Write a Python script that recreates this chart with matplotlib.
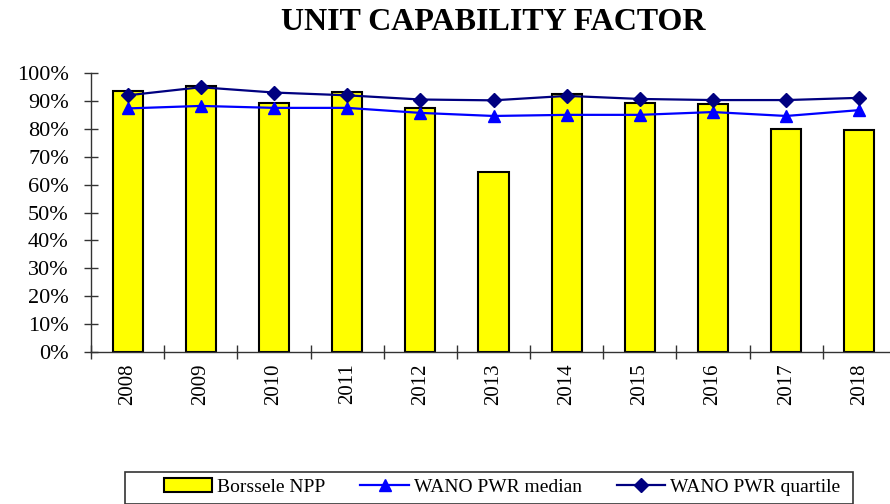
import numpy as np
import matplotlib.pyplot as plt
from matplotlib.patches import Rectangle
from matplotlib.ticker import PercentFormatter, FixedLocator

# data
years = ['2008', '2009', '2010', '2011', '2012', '2013', '2014', '2015', '2016', '2017', '2018']
borssele = [93.5, 95.3, 89.2, 93.2, 87.5, 64.5, 92.5, 89.2, 88.9, 79.9, 79.6]
wano_median = [87.3, 88.2, 87.5, 87.5, 85.7, 84.6, 85.0, 85.0, 86.0, 84.6, 86.7]
wano_quartile = [92.0, 94.9, 93.0, 92.0, 90.5, 90.2, 91.8, 90.7, 90.3, 90.3, 91.1]

plt.rcParams['font.family'] = ['Liberation Serif', 'DejaVu Serif']

W, H = 890, 504
fig = plt.figure(figsize=(W / 100, H / 100), dpi=100)
ax = fig.add_axes([91 / W, 1 - 352 / H, 805 / W, 279 / H])

x = np.arange(len(years))
bars = ax.bar(x, borssele, width=0.41, color='#FFFF00', edgecolor='black', linewidth=1.5,
              label='Borssele NPP', zorder=2)
l1, = ax.plot(x, wano_median, color='#0000FF', marker='^', markersize=9, linewidth=1.6,
              label='WANO PWR median', zorder=3)
l2, = ax.plot(x, wano_quartile, color='#000080', marker='D', markersize=7.5, linewidth=1.6,
              label='WANO PWR quartile', zorder=4)

ax.set_xlim(-0.5, len(years) - 0.5)
ax.set_ylim(0, 100)
ax.yaxis.set_major_formatter(PercentFormatter(decimals=0))
ax.set_yticks(np.arange(0, 101, 10))

ax.set_xticks(x)
ax.set_xticklabels(years, rotation=90, fontsize=15)
ax.xaxis.set_minor_locator(FixedLocator(np.arange(-0.5, len(years), 1)))
ax.tick_params(axis='x', which='major', length=0, pad=8)
ax.tick_params(axis='x', which='minor', direction='inout', length=10, width=1, color='#333333')
ax.tick_params(axis='y', direction='inout', length=10, width=1, color='#333333',
               labelsize=16, pad=11)

for s in ['top', 'right']:
    ax.spines[s].set_visible(False)
for s in ['left', 'bottom']:
    ax.spines[s].set_color('#333333')
    ax.spines[s].set_linewidth(1)

fig.text(493 / W, 1 - 22 / H, 'UNIT CAPABILITY FACTOR', ha='center', va='center',
         fontsize=23, fontweight='bold')

# legend box drawn by hand, entries centred inside
fig.patches.append(Rectangle((125 / W, 0), 728 / W, 32 / H, transform=fig.transFigure,
                             facecolor='white', edgecolor='#333333', linewidth=1.2))
leg = fig.legend([bars, l1, l2], ['Borssele NPP', 'WANO PWR median', 'WANO PWR quartile'],
                 loc='center', bbox_to_anchor=(502 / W, 1 - 487 / H), ncol=3, fontsize=14,
                 frameon=False, handlelength=2.5, handletextpad=0.25, columnspacing=1.8,
                 borderaxespad=0)

fig.savefig('out.png', dpi=100)
